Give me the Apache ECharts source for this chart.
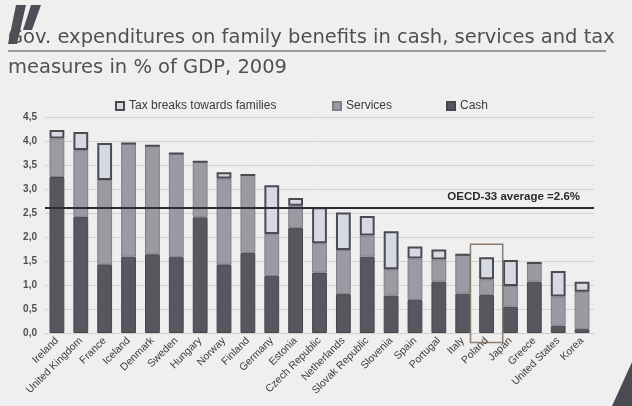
<!DOCTYPE html>
<html>
<head>
<meta charset="utf-8">
<script src="https://cdn.jsdelivr.net/npm/echarts@6/dist/echarts.min.js"></script>
<style>
html,body{margin:0;padding:0;background:#efefef;}
#c{width:632px;height:406px;}
</style>
</head>
<body>
<div id="c"></div>
<script>
const categories = ['Ireland','United Kingdom','France','Iceland','Denmark','Sweden','Hungary','Norway','Finland','Germany','Estonia','Czech Republic','Netherlands','Slovak Republic','Slovenia','Spain','Portugal','Italy','Poland','Japan','Greece','United States','Korea'];
const cash     = [3.25,2.42,1.43,1.59,1.64,1.58,2.41,1.43,1.67,1.19,2.19,1.26,0.81,1.59,0.78,0.69,1.07,0.82,0.79,0.55,1.07,0.15,0.08];
const services = [0.80,1.39,1.76,2.36,2.26,2.16,1.16,1.79,1.62,0.87,0.46,0.61,0.92,0.44,0.55,0.86,0.46,0.81,0.33,0.43,0.39,0.61,0.78];
const taxBreaks= [0.18,0.38,0.77,0.00,0.00,0.00,0.00,0.13,0.00,1.02,0.16,0.75,0.78,0.41,0.79,0.25,0.21,0.00,0.46,0.54,0.00,0.53,0.21];
const oecdAverage = 2.6;
const yTicks = ['0,0','0,5','1,0','1,5','2,0','2,5','3,0','3,5','4,0','4,5'];
const highlightCategory = 'Poland';
const highlightRange = [1.85, -0.2];

const chart = echarts.init(document.getElementById('c'), null, {renderer:'canvas'});
const font = 'Liberation Sans, Arial, sans-serif';
const legendText = {color:'#3a3a3a', fontSize:12, fontFamily:font};

chart.setOption({
  backgroundColor:'#efefef',
  animation:false,
  textStyle:{fontFamily:font},
  title:{
    text:'Gov. expenditures on family benefits in cash, services and tax\nmeasures in % of GDP, 2009',
    left:3, top:18,
    textStyle:{fontSize:19.5, fontWeight:'normal', color:'#505050', lineHeight:30, fontFamily:'DejaVu Sans, sans-serif'}
  },
  legend:[
    {data:['Tax breaks towards families'], left:110, top:95, icon:'rect', itemWidth:8, itemHeight:8, itemGap:2, textStyle:legendText},
    {data:['Services'], left:327, top:95, icon:'rect', itemWidth:8, itemHeight:8, textStyle:legendText},
    {data:['Cash'], left:441, top:95, icon:'rect', itemWidth:8, itemHeight:8, textStyle:legendText}
  ],
  grid:{left:45, right:38, top:117, bottom:73},
  xAxis:{
    type:'category', data:categories,
    axisTick:{show:false},
    axisLine:{show:true, lineStyle:{color:'#cfcfcf'}},
    axisLabel:{rotate:45, interval:0, fontSize:10.5, color:'#404040', margin:6, fontFamily:font}
  },
  yAxis:{
    type:'value', min:0, max:4.5, interval:0.5,
    axisLine:{show:false}, axisTick:{show:false},
    axisLabel:{fontSize:10, color:'#505050', fontWeight:'bold', margin:8,
      formatter:function(v){return yTicks[Math.round(v/0.5)];}},
    splitLine:{lineStyle:{color:'#d2d2d2', width:1}}
  },
  series:[
    {name:'Cash', type:'bar', stack:'t', data:cash, barWidth:'62%',
      itemStyle:{color:'#57575f', borderColor:'#46464d', borderWidth:1},
      markLine:{symbol:'none', silent:true,
        lineStyle:{color:'#2b2b35', width:2, type:'solid'},
        label:{position:'insideEndTop', formatter:'OECD-33 average =2.6%', fontWeight:'bold', fontSize:11.5, color:'#2a2a2a', distance:[14,5]},
        data:[{yAxis:oecdAverage}]}
    },
    {name:'Services', type:'bar', stack:'t', data:services,
      itemStyle:{color:'#9a9aa3', borderColor:'#7e7e87', borderWidth:1}},
    {name:'Tax breaks towards families', type:'bar', stack:'t', data:taxBreaks,
      itemStyle:{color:'#d6d8e2', borderColor:'#4a4a52', borderWidth:2}},
    {type:'custom', silent:true, clip:false, z:5,
      data:[[highlightCategory, highlightRange[0], highlightRange[1]]],
      renderItem:function(params, api){
        const idx = categories.indexOf(highlightCategory);
        const top = api.coord([idx, api.value(1)]);
        const bot = api.coord([idx, api.value(2)]);
        const w = api.size([1,0])[0]*1.35;
        return {type:'rect', shape:{x:top[0]-w/2, y:top[1], width:w, height:bot[1]-top[1]},
          style:{fill:'none', stroke:'#8a7b70', lineWidth:1.5}};
      }
    }
  ],
  graphic:[
    {type:'line', shape:{x1:8, y1:51, x2:606, y2:51}, style:{stroke:'#9a9a9a', lineWidth:2}},
    {type:'polygon', shape:{points:[[16,5],[26,5],[17,44],[8,44]]}, style:{fill:'#4e4e58'}},
    {type:'polygon', shape:{points:[[31,5],[41,5],[32,30],[23,30]]}, style:{fill:'#4e4e58'}},
    {type:'polygon', shape:{points:[[632,362],[632,406],[612,406]]}, style:{fill:'#4a4a52'}}
  ]
});
</script>
</body>
</html>
